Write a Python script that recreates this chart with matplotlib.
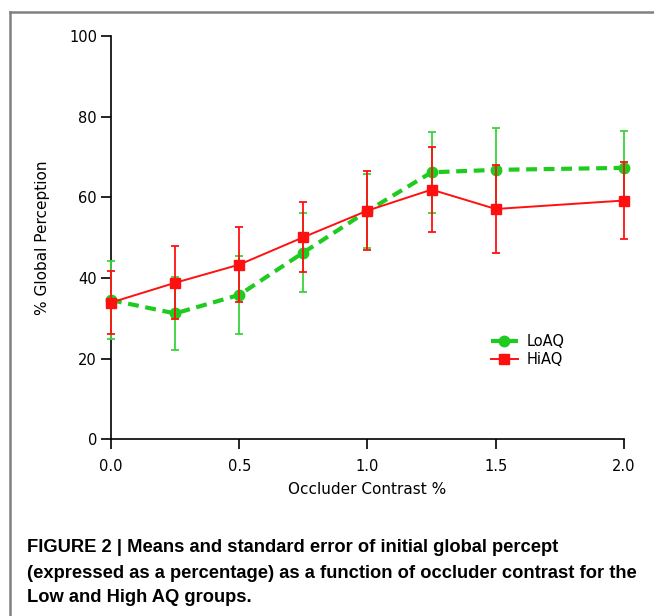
"""Global percept vs occluder contrast, LoAQ / HiAQ."""

import matplotlib
matplotlib.use("Agg")
import matplotlib.pyplot as plt
from matplotlib.lines import Line2D

contrast = [0.0, 0.25, 0.5, 0.75, 1.0, 1.25, 1.5, 2.0]

lo_mean = [34.5, 31.2, 35.8, 46.3, 56.6, 66.2, 66.8, 67.3]
lo_err = [9.7, 9.1, 9.7, 9.8, 9.1, 10.1, 10.5, 9.2]

hi_mean = [33.9, 38.8, 43.3, 50.1, 56.7, 61.9, 57.1, 59.2]
hi_err = [7.9, 9.0, 9.3, 8.7, 9.8, 10.6, 10.8, 9.5]

x_ticks = [0.0, 0.5, 1.0, 1.5, 2.0]
y_ticks = [0, 20, 40, 60, 80, 100]

caption = [
    "FIGURE 2 | Means and standard error of initial global percept",
    "(expressed as a percentage) as a function of occluder contrast for the",
    "Low and High AQ groups.",
]

GREEN = "#1ecb1e"
GREEN_BAR = "#3cd23c"
RED = "#ff1010"
DASH = (0, (2.6, 1.6))

fig = plt.figure(figsize=(6.54, 6.16), dpi=100)
ax = fig.add_axes([0.1697, 0.2869, 0.7844, 0.6547])

lo = ax.errorbar(contrast, lo_mean, yerr=lo_err, color=GREEN, ecolor=GREEN_BAR,
                 lw=3, ls=DASH, marker="o", ms=7.5, elinewidth=1.3,
                 capsize=3, capthick=1.3, clip_on=False, zorder=3)
hi = ax.errorbar(contrast, hi_mean, yerr=hi_err, color=RED, ecolor=RED,
                 lw=1.4, marker="s", ms=7.5, elinewidth=1.3,
                 capsize=3, capthick=1.3, clip_on=False, zorder=4)
for bars in (lo, hi):
    for artist in bars.lines[1] + bars.lines[2]:
        artist.set_clip_on(False)

ax.set_xlim(0, 2)
ax.set_ylim(0, 100)
ax.set_xticks(x_ticks)
ax.set_xticklabels(["%.1f" % v for v in x_ticks])
ax.set_yticks(y_ticks)

for side in ("top", "right"):
    ax.spines[side].set_visible(False)
for side in ("left", "bottom"):
    ax.spines[side].set_linewidth(1.2)

ax.tick_params(axis="both", direction="out", length=7, width=1.2,
               labelsize=10.5, colors="black")
ax.tick_params(axis="x", pad=7)
ax.tick_params(axis="y", pad=3)

ax.set_xlabel("Occluder Contrast %", fontsize=11, labelpad=6)
ax.set_ylabel("% Global Perception", fontsize=11, labelpad=14)

handles = [
    Line2D([], [], color=GREEN, lw=3, ls=DASH, marker="o", ms=7.5),
    Line2D([], [], color=RED, lw=1.4, marker="s", ms=7.5),
]
ax.legend(handles, ["LoAQ", "HiAQ"], loc="upper left",
          bbox_to_anchor=(0.73, 0.275), frameon=False, fontsize=10.5,
          handlelength=1.8, handletextpad=0.6, labelspacing=0.2,
          borderaxespad=0)

# frame of the figure panel (only top and left edges are in view)
fig.add_artist(Line2D([10 / 654, 10 / 654], [0, 1 - 12 / 616],
                      transform=fig.transFigure, color="#808080", lw=1.8))
fig.add_artist(Line2D([10 / 654, 1], [1 - 12 / 616, 1 - 12 / 616],
                      transform=fig.transFigure, color="#808080", lw=1.8))

line_y = [547, 573, 598]
for text, py in zip(caption, line_y):
    fig.text(27 / 654, 1 - py / 616, text, ha="left", va="center",
             fontsize=13.2, fontweight="bold", family="Liberation Sans")

fig.savefig("out.png", dpi=100)
plt.close(fig)
